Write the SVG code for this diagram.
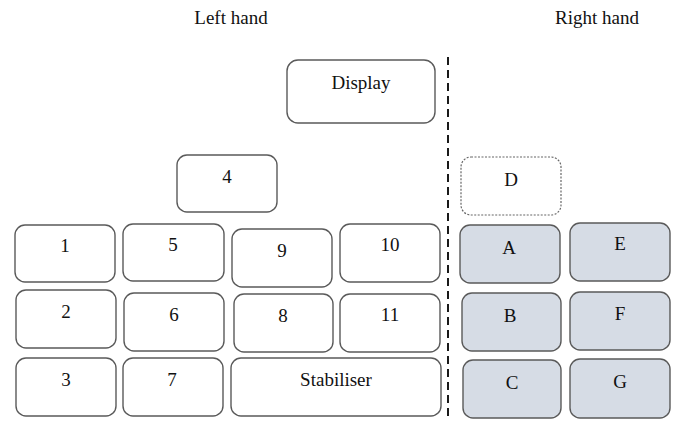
<svg xmlns="http://www.w3.org/2000/svg" width="675" height="425" viewBox="0 0 675 425">
<style>
  .box{fill:#ffffff;stroke:#5a5a5a;stroke-width:1.4}
  .grey{fill:#d6dce5;stroke:#5a5a5a;stroke-width:1.4}
  .dot{fill:#ffffff;stroke:#666666;stroke-width:1.2;stroke-dasharray:2 1.5}
  text{font-family:"Liberation Serif","Times New Roman",serif;font-size:19px;fill:#111111;text-anchor:middle}
</style>
<rect width="675" height="425" fill="#ffffff"/>
<text x="231" y="24">Left hand</text>
<text x="597" y="24">Right hand</text>
<g id="divider">
  <line x1="448" y1="57" x2="448" y2="421" stroke="#1a1a1a" stroke-width="2" stroke-dasharray="8 5"/>
</g>
<g id="display"><rect class="box" x="287" y="60" width="148" height="63" rx="11"/><text x="361" y="89">Display</text></g>
<g id="n4"><rect class="box" x="177" y="155" width="100" height="57" rx="10"/><text x="227" y="183">4</text></g>
<g id="nD"><rect class="dot" x="461" y="157" width="100" height="58" rx="10"/><text x="511" y="186">D</text></g>
<g id="n1"><rect class="box" x="15" y="225" width="100" height="57" rx="10"/><text x="65" y="252">1</text></g>
<g id="n5"><rect class="box" x="123" y="224" width="101" height="57" rx="10"/><text x="173" y="251">5</text></g>
<g id="n9"><rect class="box" x="232" y="229" width="100" height="58" rx="10"/><text x="282" y="257">9</text></g>
<g id="n10"><rect class="box" x="340" y="224" width="100" height="58" rx="10"/><text x="390" y="251">10</text></g>
<g id="nA"><rect class="grey" x="460" y="225" width="100" height="58" rx="10"/><text x="509" y="254">A</text></g>
<g id="nE"><rect class="grey" x="570" y="223" width="100" height="58" rx="10"/><text x="620" y="250">E</text></g>
<g id="n2"><rect class="box" x="16" y="290" width="100" height="58" rx="10"/><text x="66" y="318">2</text></g>
<g id="n6"><rect class="box" x="124" y="293" width="100" height="58" rx="10"/><text x="174" y="321">6</text></g>
<g id="n8"><rect class="box" x="234" y="294" width="99" height="58" rx="10"/><text x="283" y="322">8</text></g>
<g id="n11"><rect class="box" x="340" y="294" width="100" height="58" rx="10"/><text x="390" y="321">11</text></g>
<g id="nB"><rect class="grey" x="462" y="293" width="99" height="58" rx="10"/><text x="510" y="322">B</text></g>
<g id="nF"><rect class="grey" x="570" y="292" width="100" height="58" rx="10"/><text x="620" y="320">F</text></g>
<g id="n3"><rect class="box" x="16" y="358" width="100" height="58" rx="10"/><text x="66" y="386">3</text></g>
<g id="n7"><rect class="box" x="123" y="358" width="100" height="58" rx="10"/><text x="172" y="386">7</text></g>
<g id="stabiliser"><rect class="box" x="231" y="358" width="210" height="58" rx="10"/><text x="336" y="386">Stabiliser</text></g>
<g id="nC"><rect class="grey" x="463" y="360" width="98" height="58" rx="10"/><text x="512" y="389">C</text></g>
<g id="nG"><rect class="grey" x="570" y="359" width="100" height="59" rx="10"/><text x="620" y="388">G</text></g>
</svg>
